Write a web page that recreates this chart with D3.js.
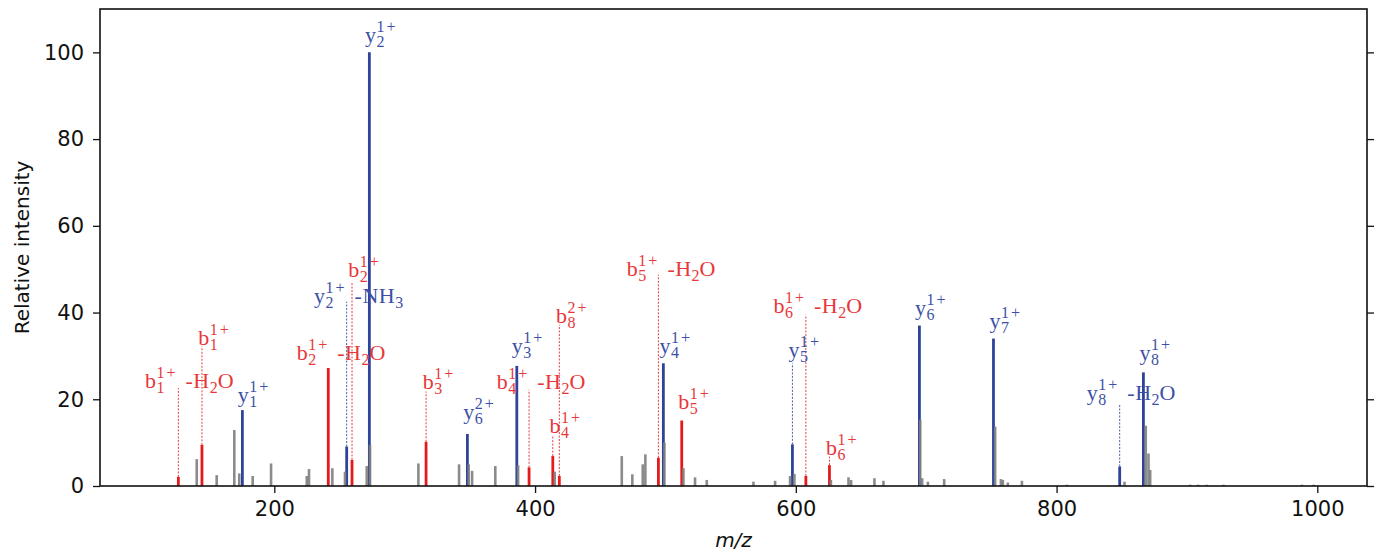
<!DOCTYPE html>
<html>
<head>
<meta charset="utf-8">
<script src="https://cdn.jsdelivr.net/npm/d3@7"></script>
<style>
  html, body { margin: 0; padding: 0; background: #fff; }
  svg { display: block; }
</style>
</head>
<body>
<svg id="chart" width="1374" height="556"></svg>
<script>
// ---- annotated fragment ions ----
const ionType   = ["b","b","y","b","y","b","y","b","y","y","b","b","b","b","y","b","y","b","b","y","y","y","y"];
const ionIndex  = [1,1,1,2,2,2,2,3,6,3,4,4,8,5,4,5,5,6,6,6,7,8,8];
const ionCharge = ["1+","1+","1+","1+","1+","1+","1+","1+","2+","1+","1+","1+","2+","1+","1+","1+","1+","1+","1+","1+","1+","1+","1+"];
const ionLoss   = ["-H2O","","","-H2O","-NH3","","","","","","-H2O","","","-H2O","","","","-H2O","","","","-H2O",""];
const ionMz     = [126.4,144.5,175.5,241.4,255.5,259.6,272.9,316.4,348.1,386.0,395.4,413.6,418.6,494.6,498.4,512.5,597.4,607.7,625.8,694.8,751.6,848.4,866.6];
const ionInt    = [2.1,9.5,17.5,27.2,9.1,6.0,100,10.2,12.0,27.7,4.3,6.9,2.3,6.5,28.3,15.1,9.6,2.3,4.8,37.0,34.0,4.5,26.2];
// height (relative intensity) that the dotted leader reaches, null = no leader
const leaderTop = [22.6,32.2,null,null,42.5,46.8,null,21.8,null,null,22.2,11.4,37.2,48.7,null,null,28.3,39.5,6.8,null,null,18.7,null];
// label anchor (left edge in m/z, baseline in relative intensity)
const labelMz   = [100.8,141.7,171.9,217.2,230.5,256.8,269.6,313.8,345.0,382.1,370.6,411.0,416.1,470.4,495.4,509.9,594.3,582.8,623.2,691.5,748.5,823.2,863.6];
const labelInt  = [22.6,32.5,19.4,29.1,42.1,48.3,102.4,22.3,15.4,30.6,22.3,12.3,37.7,48.4,30.6,17.7,29.8,39.8,7.1,39.4,36.4,19.8,29.1];

// ---- unassigned peaks ----
const otherMz  = [140.5,155.8,169.3,173.1,183.4,197.5,224.9,226.6,244.5,254.2,270.9,273.4,
                  310.5,341.7,349.1,351.7,369.5,387.0,415.1,466.5,474.6,482.6,484.6,499.2,
                  513.8,522.7,531.7,567.5,584.1,595.6,598.9,626.9,640.4,642.4,660.3,667.2,
                  695.4,696.9,701.3,713.8,752.9,757.3,758.8,762.6,773.4,807.9,852.1,868.4,
                  870.5,871.8,902.5,908.6,915.3,928.0,988.2,997.1];
const otherInt = [6.2,2.5,12.9,2.9,2.3,5.2,2.3,3.9,4.1,3.3,4.6,9.5,
                  5.2,5.0,5.0,3.5,4.6,4.8,3.3,6.9,2.7,5.0,7.3,10.0,
                  4.1,2.0,1.4,1.0,1.2,2.3,2.8,1.4,2.0,1.4,1.8,1.2,
                  15.3,1.8,1.0,1.6,13.7,1.6,1.4,0.8,1.2,0.3,1.0,13.9,
                  7.5,3.7,0.3,0.3,0.3,0.3,0.3,0.3];

// ---- axes ----
const xTicks = [200,400,600,800,1000];
const yTicks = [0,20,40,60,80,100];
const xDomain = [66.3,1038.1];
const yDomain = [0,110];

const W = 1374, H = 556;
const margin = {left: 100, right: 7, top: 9, bottom: 70};
const svg = d3.select("#chart");

const x = d3.scaleLinear().domain(xDomain).range([margin.left, W - margin.right]);
const y = d3.scaleLinear().domain(yDomain).range([H - margin.bottom, margin.top]);

const colors = {
  b: {bar: "#e41a1c", text: "#e8373a"},
  y: {bar: "#2e4399", text: "#3d4fa6"}
};

const plot = svg.append("g");

// annotated peaks
const ions = ionMz.map((mz, i) => ({
  type: ionType[i], idx: ionIndex[i], charge: ionCharge[i], loss: ionLoss[i],
  mz, int: ionInt[i], lead: leaderTop[i], lx: labelMz[i], ly: labelInt[i]
}));

plot.selectAll("line.lead").data(ions.filter(d => d.lead !== null)).join("line")
  .attr("class", "lead")
  .attr("x1", d => x(d.mz)).attr("x2", d => x(d.mz))
  .attr("y1", d => y(d.int)).attr("y2", d => y(d.lead))
  .attr("stroke", d => colors[d.type].bar)
  .attr("stroke-width", 1)
  .attr("stroke-dasharray", "2,1.5")
  .attr("opacity", 0.85);

plot.selectAll("line.ion").data(ions).join("line")
  .attr("class", "ion")
  .attr("x1", d => x(d.mz)).attr("x2", d => x(d.mz))
  .attr("y1", y(0)).attr("y2", d => y(d.int))
  .attr("stroke", d => colors[d.type].bar)
  .attr("stroke-width", 2.8);

// unassigned peaks
const others = otherMz.map((mz, i) => ({mz, int: otherInt[i]}));
plot.selectAll("line.other").data(others).join("line")
  .attr("class", "other")
  .attr("x1", d => x(d.mz)).attr("x2", d => x(d.mz))
  .attr("y1", y(0)).attr("y2", d => y(d.int))
  .attr("stroke", "#7f7f7f")
  .attr("stroke-width", 2.6)
  .attr("opacity", 0.9);

// ion labels built from pieces: letter, stacked sub/superscript, optional neutral loss
const mainSize = 22, scriptSize = 16;
const labelFont = "'Liberation Serif', 'Times New Roman', serif";

function piece(g, text, px, py, size, color, spacing) {
  const t = g.append("text")
    .attr("x", px).attr("y", py)
    .attr("font-family", labelFont)
    .attr("font-size", size)
    .attr("fill", color)
    .attr("letter-spacing", spacing || 0)
    .text(text);
  return t.node().getComputedTextLength();
}

ions.forEach(d => {
  const color = colors[d.type].text;
  const g = plot.append("g").attr("transform", `translate(${x(d.lx)},${y(d.ly)})`);
  let cx = 0;
  cx += piece(g, d.type, cx, 0, mainSize, color) + 0.5;
  const ws = piece(g, String(d.idx), cx, 5, scriptSize, color);
  const wp = piece(g, d.charge, cx, -10, scriptSize, color, 2);
  cx += Math.max(ws, wp);
  if (d.loss) {
    cx += 8;
    // letters at full size, digits as subscripts
    const parts = d.loss.match(/[^0-9]+|[0-9]+/g);
    parts.forEach(p => {
      if (/^[0-9]+$/.test(p)) cx += piece(g, p, cx, 5, scriptSize, color);
      else cx += piece(g, p, cx, 0, mainSize, color, 0.5);
    });
  }
});

// frame
const axisColor = "#111";
svg.append("rect")
  .attr("x", margin.left).attr("y", margin.top)
  .attr("width", W - margin.left - margin.right)
  .attr("height", H - margin.top - margin.bottom)
  .attr("fill", "none").attr("stroke", axisColor).attr("stroke-width", 1.6);

const tickFont = "'DejaVu Sans', sans-serif";

const xAxis = svg.append("g")
  .attr("transform", `translate(0,${H - margin.bottom})`)
  .call(d3.axisBottom(x).tickValues(xTicks).tickSize(7).tickPadding(8).tickFormat(d3.format("d")));
const yAxis = svg.append("g")
  .attr("transform", `translate(${margin.left},0)`)
  .call(d3.axisLeft(y).tickValues(yTicks).tickSize(7).tickPadding(9).tickFormat(d3.format("d")));
const yAxisR = svg.append("g")
  .attr("transform", `translate(${W - margin.right},0)`)
  .call(d3.axisRight(y).tickValues(yTicks).tickSize(7).tickFormat(""));

[xAxis, yAxis, yAxisR].forEach(a => {
  a.select(".domain").remove();
  a.selectAll(".tick line").attr("stroke", axisColor).attr("stroke-width", 1.3);
  a.selectAll(".tick text")
    .attr("font-family", tickFont).attr("font-size", 21).attr("fill", "#111");
});

// axis titles
svg.append("text")
  .attr("x", (margin.left + W - margin.right) / 2)
  .attr("y", 547)
  .attr("text-anchor", "middle")
  .attr("font-family", tickFont).attr("font-style", "italic")
  .attr("font-size", 20).attr("fill", "#111")
  .text("m/z");

svg.append("text")
  .attr("transform", `translate(29,${(margin.top + H - margin.bottom) / 2}) rotate(-90)`)
  .attr("text-anchor", "middle")
  .attr("font-family", tickFont)
  .attr("font-size", 20).attr("fill", "#111")
  .text("Relative intensity");
</script>
</body>
</html>
